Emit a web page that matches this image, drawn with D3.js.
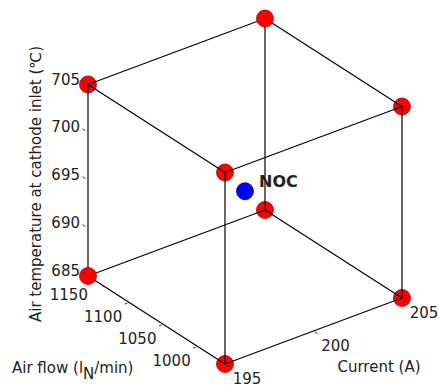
<!DOCTYPE html>
<html>
<head>
<meta charset="utf-8">
<script src="https://cdn.jsdelivr.net/npm/d3@7"></script>
<style>
  body { margin: 0; background: #fff; }
  .edge { stroke: black; stroke-width: 1.2; fill: none; }
  .tick { stroke: #333; stroke-width: 1; }
  .ticklabel { font-family: "DejaVu Sans", sans-serif; font-size: 15px; fill: #222; }
  .title { font-family: "DejaVu Sans", sans-serif; font-size: 15px; fill: #222; }
</style>
</head>
<body>
<script>
  let w = 439
  let h = 389

  // data: design of experiments corners and nominal operating condition
  let currentRange = [195, 205]
  let airflowRange = [960, 1160]
  let tempRange = [685, 705]
  let currentLevels = [195, 205]
  let airflowLevels = [960, 1160]
  let tempLevels = [685, 705]
  let noc = {current: 200, airflow: 1060, temp: 695, label: "NOC"}
  let currentTicks = [195, 200, 205]
  let airflowTicks = [1000, 1050, 1100, 1150]
  let tempTicks = [685, 690, 695, 700, 705]

  let svg = d3.select("body").append("svg")
              .attr("width", w)
              .attr("height", h)

  // each axis scaled to 0..1 and then projected onto the screen
  let uScale = d3.scaleLinear().domain(currentRange).range([0, 1])
  let vScale = d3.scaleLinear().domain(airflowRange).range([0, 1])
  let wScale = d3.scaleLinear().domain(tempRange).range([0, 1])
  let origin = [225, 364]
  let eu = [177, -66]
  let ev = [-137, -88]
  let ew = [0, -191.5]
  function proj(c, a, t){
    let u = uScale(c), v = vScale(a), z = wScale(t)
    return [origin[0] + u*eu[0] + v*ev[0] + z*ew[0],
            origin[1] + u*eu[1] + v*ev[1] + z*ew[1]]
  }

  // corners
  let corners = []
  for (let c of currentLevels)
    for (let a of airflowLevels)
      for (let t of tempLevels)
        corners.push({current: c, airflow: a, temp: t})

  let edges = []
  for (let i = 0; i < corners.length; i++){
    for (let j = i+1; j < corners.length; j++){
      let p = corners[i], q = corners[j]
      let diff = (p.current != q.current) + (p.airflow != q.airflow) + (p.temp != q.temp)
      if (diff == 1) edges.push([p, q])
    }
  }

  function drawCorner(d){
    let p = proj(d.current, d.airflow, d.temp)
    svg.append("circle")
       .attr("cx", p[0]).attr("cy", p[1]).attr("r", 8.5)
       .attr("fill", "#ff0000")
       .attr("stroke", "#b00000")
       .attr("stroke-width", 0.8)
  }
  // matplotlib drew these two over the edges
  let isOver = d => (d.current == 205 && d.airflow == 1160 && d.temp == 705) ||
                    (d.current == 195 && d.airflow == 1160 && d.temp == 685)

  corners.filter(d => !isOver(d)).forEach(drawCorner)

  let line = d3.line()
  for (let e of edges){
    svg.append("path")
       .attr("class", "edge")
       .attr("d", line([proj(e[0].current, e[0].airflow, e[0].temp),
                        proj(e[1].current, e[1].airflow, e[1].temp)]))
  }
  corners.filter(isOver).forEach(drawCorner)

  // NOC
  let pn = proj(noc.current, noc.airflow, noc.temp)
  svg.append("circle")
     .attr("cx", pn[0]).attr("cy", pn[1]).attr("r", 8.5)
     .attr("fill", "#0000ff")
     .attr("stroke", "#000080")
     .attr("stroke-width", 0.8)
  svg.append("text")
     .attr("x", pn[0] + 14)
     .attr("y", pn[1] - 4)
     .attr("font-family", "DejaVu Sans, sans-serif")
     .attr("font-size", 16)
     .attr("font-weight", "bold")
     .attr("fill", "#222")
     .text(noc.label)

  // temperature axis (left edge)
  for (let t of tempTicks){
    let p = proj(195, 1160, t)
    svg.append("line").attr("class", "tick")
       .attr("x1", p[0] + 0.02*ev[0]).attr("y1", p[1] + 0.02*ev[1])
       .attr("x2", p[0] + 0.04*ev[0]).attr("y2", p[1] + 0.04*ev[1])
    svg.append("text").attr("class", "ticklabel")
       .attr("x", 80).attr("y", p[1] - 5)
       .attr("text-anchor", "end")
       .attr("dominant-baseline", "central")
       .text(t)
  }

  // airflow axis
  for (let a of airflowTicks){
    let p = proj(195, a, 685)
    svg.append("line").attr("class", "tick")
       .attr("x1", p[0] - 0.01*eu[0]).attr("y1", p[1] - 0.01*eu[1])
       .attr("x2", p[0] - 0.025*eu[0]).attr("y2", p[1] - 0.025*eu[1])
    svg.append("text").attr("class", "ticklabel")
       .attr("x", p[0] - 26).attr("y", p[1] + 15)
       .attr("text-anchor", "middle")
       .attr("dominant-baseline", "central")
       .text(a)
  }

  // current axis
  for (let c of currentTicks){
    let p = proj(c, 960, 685)
    svg.append("line").attr("class", "tick")
       .attr("x1", p[0] - 0.01*ev[0]).attr("y1", p[1] - 0.01*ev[1])
       .attr("x2", p[0] - 0.03*ev[0]).attr("y2", p[1] - 0.03*ev[1])
    svg.append("text").attr("class", "ticklabel")
       .attr("x", p[0] + 22).attr("y", p[1] + 15)
       .attr("text-anchor", "middle")
       .attr("dominant-baseline", "central")
       .text(c)
  }

  // axis titles
  svg.append("text").attr("class", "title")
     .attr("transform", "translate(36,184) rotate(-90)")
     .attr("text-anchor", "middle")
     .attr("dominant-baseline", "central")
     .text("Air temperature at cathode inlet (\u2103)")

  let af = svg.append("text").attr("class", "title")
              .attr("x", 12).attr("y", 373)
  af.append("tspan").text("Air flow (l")
  af.append("tspan").attr("dy", 6).text("N")
  af.append("tspan").attr("dy", -6).text("/min)")

  svg.append("text").attr("class", "title")
     .attr("x", 379).attr("y", 367)
     .attr("text-anchor", "middle")
     .attr("dominant-baseline", "central")
     .text("Current (A)")
</script>
</body>
</html>
